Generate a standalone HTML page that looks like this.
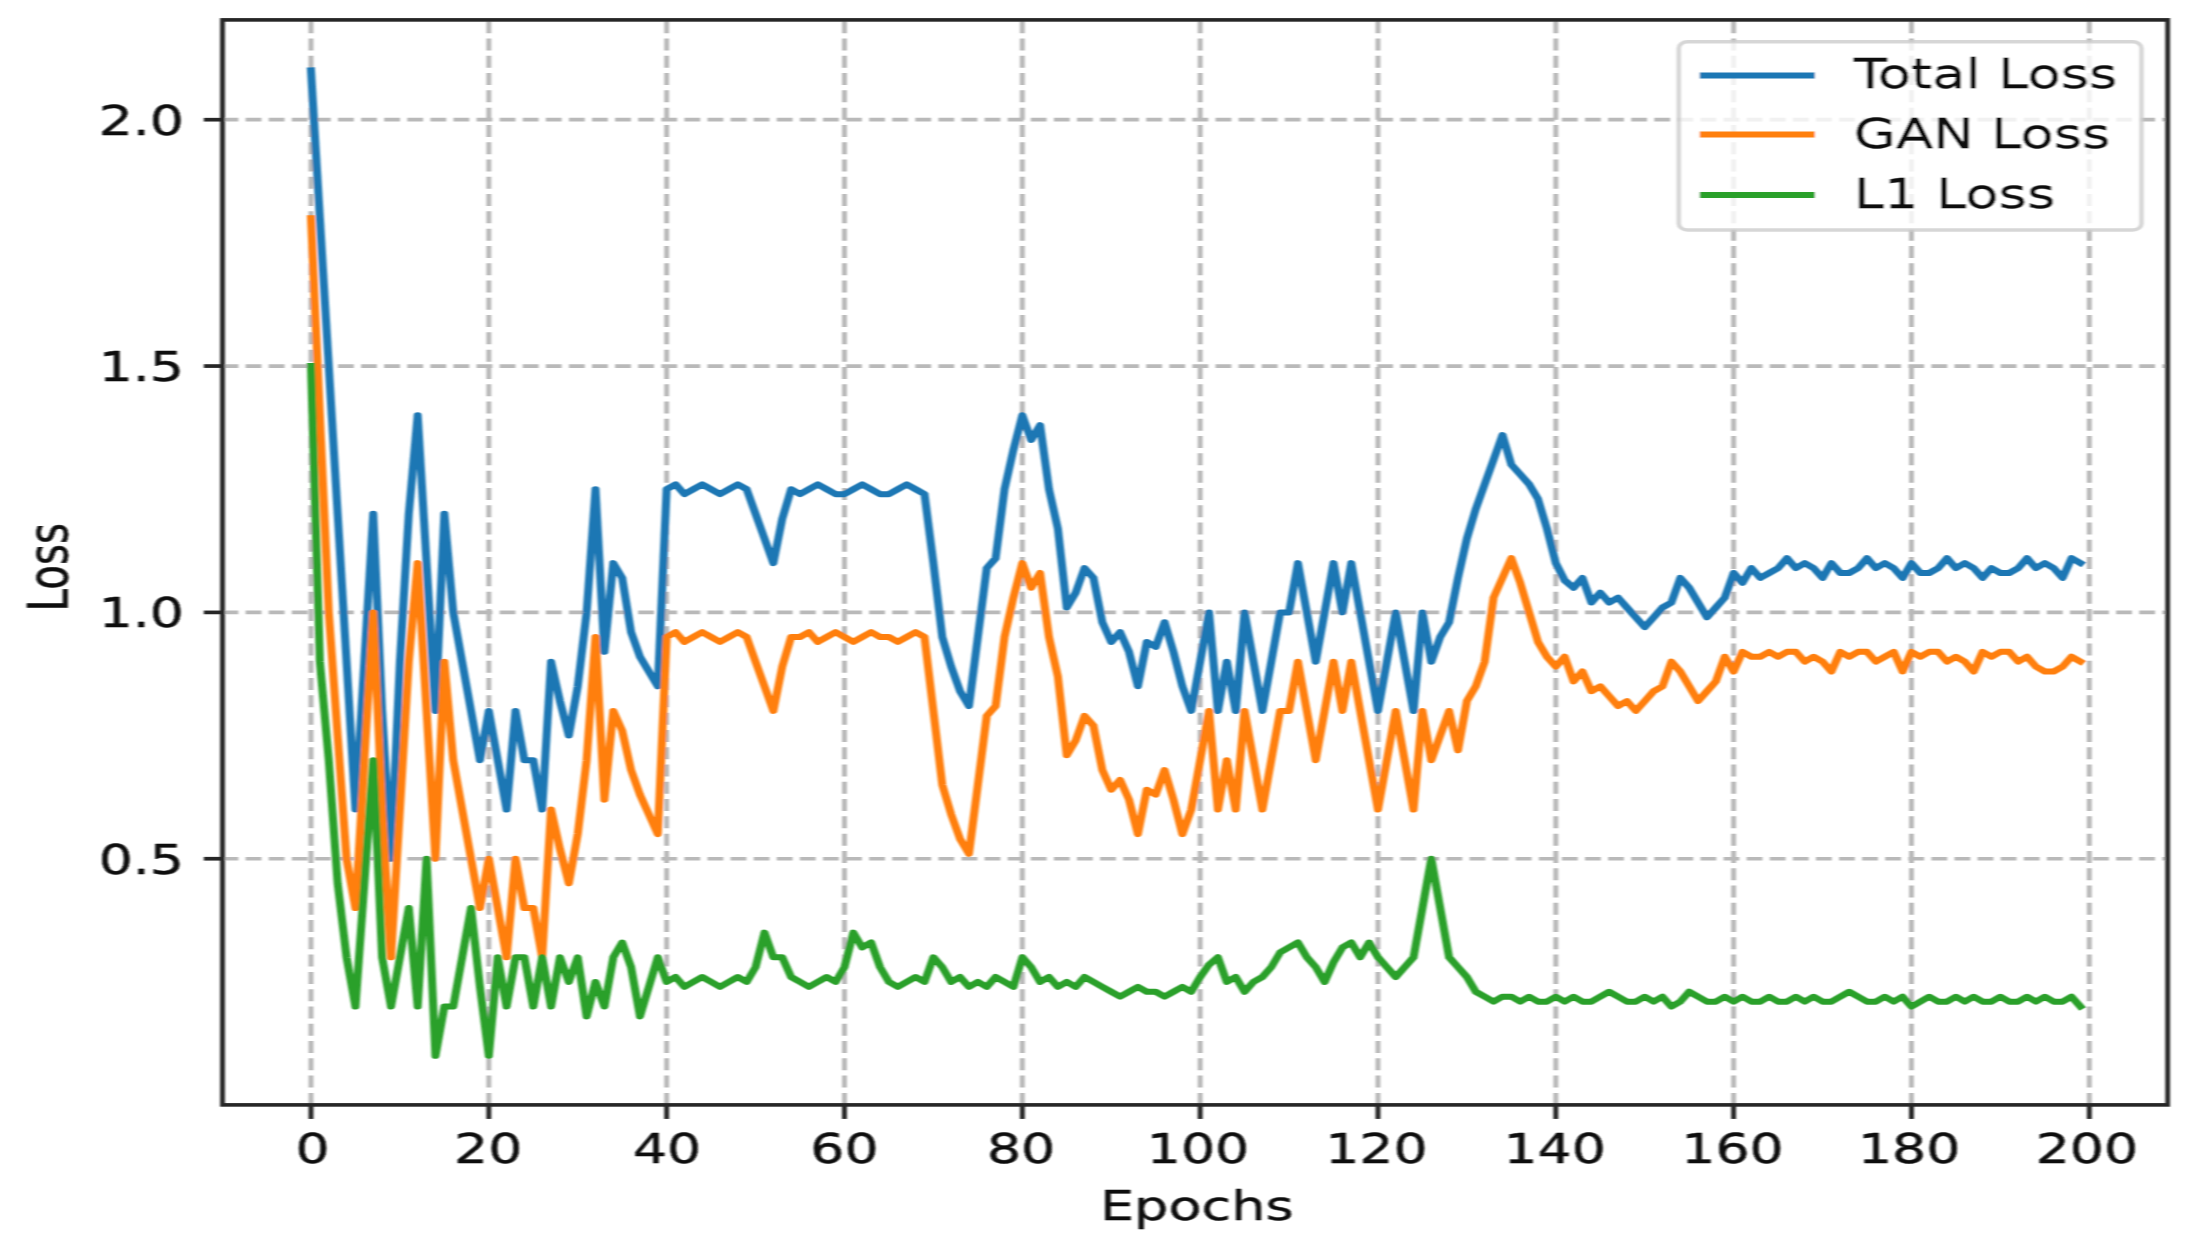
<!DOCTYPE html>
<html lang="en"><head><meta charset="utf-8"><title>Loss curves</title>
<style>html,body{margin:0;padding:0;background:#fff}body{width:2187px;height:1250px;overflow:hidden}svg{display:block}text{font-family:"DejaVu Sans", "Liberation Sans", sans-serif;font-size:41.0px;fill:#0a0a0a;stroke:#0a0a0a;stroke-width:0.4px;stroke-linejoin:round}</style></head><body>
<svg width="2187" height="1250" viewBox="0 0 2187 1250">
<defs><filter id="soft" x="-2%" y="-2%" width="104%" height="104%"><feGaussianBlur stdDeviation="0.9 0.7"/></filter>
<clipPath id="axclip"><rect x="166.54" y="19.9" width="1455.99" height="1085.0"/></clipPath></defs>
<rect width="2187" height="1250" fill="#fff"/>
<g filter="url(#soft)"><g transform="scale(1.336,1)">
<g stroke="#b9b9b9" stroke-width="3.7" fill="none">
<g stroke-dasharray="12.0 5.285">
<line x1="232.78" y1="1104.9" x2="232.78" y2="19.9"/>
<line x1="365.89" y1="1104.9" x2="365.89" y2="19.9"/>
<line x1="499.00" y1="1104.9" x2="499.00" y2="19.9"/>
<line x1="632.10" y1="1104.9" x2="632.10" y2="19.9"/>
<line x1="765.21" y1="1104.9" x2="765.21" y2="19.9"/>
<line x1="898.32" y1="1104.9" x2="898.32" y2="19.9"/>
<line x1="1031.42" y1="1104.9" x2="1031.42" y2="19.9"/>
<line x1="1164.53" y1="1104.9" x2="1164.53" y2="19.9"/>
<line x1="1297.63" y1="1104.9" x2="1297.63" y2="19.9"/>
<line x1="1430.74" y1="1104.9" x2="1430.74" y2="19.9"/>
<line x1="1563.85" y1="1104.9" x2="1563.85" y2="19.9"/>
</g><g stroke-dasharray="11.901 5.384">
<line x1="166.54" y1="858.75" x2="1622.53" y2="858.75"/>
<line x1="166.54" y1="612.40" x2="1622.53" y2="612.40"/>
<line x1="166.54" y1="366.05" x2="1622.53" y2="366.05"/>
<line x1="166.54" y1="119.70" x2="1622.53" y2="119.70"/>
</g></g>
<g fill="none" stroke-width="6.0" stroke-linejoin="round" stroke-linecap="square" clip-path="url(#axclip)">
<path stroke="#1f77b4" d="M232.78 70.43 L239.44 218.24 L246.10 366.05 L252.75 513.86 L259.41 661.67 L266.06 809.48 L272.72 661.67 L279.37 513.86 L286.03 710.94 L292.68 858.75 L299.34 661.67 L305.99 513.86 L312.65 415.32 L319.30 563.13 L325.96 710.94 L332.61 513.86 L339.27 612.40 L345.92 661.67 L352.58 710.94 L359.24 760.21 L365.89 710.94 L372.55 760.21 L379.20 809.48 L385.86 710.94 L392.51 760.21 L399.17 760.21 L405.82 809.48 L412.48 661.67 L419.13 701.09 L425.79 735.57 L432.44 686.30 L439.10 612.40 L445.75 489.22 L452.41 651.82 L459.07 563.13 L465.72 577.91 L472.38 632.11 L479.03 656.74 L485.69 671.52 L492.34 686.30 L499.00 489.22 L505.65 484.30 L512.31 494.15 L518.96 489.22 L525.62 484.30 L532.27 489.22 L538.93 494.15 L545.58 489.22 L552.24 484.30 L558.89 489.22 L565.55 513.86 L572.21 538.50 L578.86 563.13 L585.52 518.79 L592.17 489.22 L598.83 494.15 L605.48 489.22 L612.14 484.30 L618.79 489.22 L625.45 494.15 L632.10 494.15 L638.76 489.22 L645.41 484.30 L652.07 489.22 L658.72 494.15 L665.38 494.15 L672.04 489.22 L678.69 484.30 L685.35 489.22 L692.00 494.15 L698.66 563.13 L705.31 637.03 L711.97 666.60 L718.62 691.23 L725.28 706.01 L731.93 637.03 L738.59 568.06 L745.24 558.20 L751.90 489.22 L758.55 449.81 L765.21 415.32 L771.86 439.95 L778.52 425.17 L785.18 489.22 L791.83 528.64 L798.49 607.47 L805.14 592.69 L811.80 568.06 L818.45 577.91 L825.11 622.25 L831.76 641.96 L838.42 632.11 L845.07 651.82 L851.73 686.30 L858.38 641.96 L865.04 646.89 L871.69 622.25 L878.35 651.82 L885.01 686.30 L891.66 710.94 L898.32 661.67 L904.97 612.40 L911.63 710.94 L918.28 661.67 L924.94 710.94 L931.59 612.40 L938.25 661.67 L944.90 710.94 L951.56 661.67 L958.21 612.40 L964.87 612.40 L971.52 563.13 L978.18 612.40 L984.83 661.67 L991.49 612.40 L998.15 563.13 L1004.80 612.40 L1011.46 563.13 L1018.11 612.40 L1024.77 661.67 L1031.42 710.94 L1038.08 661.67 L1044.73 612.40 L1051.39 661.67 L1058.04 710.94 L1064.70 612.40 L1071.35 661.67 L1078.01 637.03 L1084.66 622.25 L1091.32 577.91 L1097.98 538.50 L1104.63 508.93 L1111.29 484.30 L1117.94 459.66 L1124.60 435.03 L1131.25 464.59 L1137.91 474.44 L1144.56 484.30 L1151.22 499.08 L1157.87 528.64 L1164.53 563.13 L1171.18 580.37 L1177.84 587.76 L1184.49 577.91 L1191.15 602.55 L1197.81 592.69 L1204.46 602.55 L1211.12 597.62 L1217.77 607.47 L1224.43 617.33 L1231.08 627.18 L1237.74 617.33 L1244.39 607.47 L1251.05 602.55 L1257.70 577.91 L1264.36 587.76 L1271.01 602.55 L1277.67 617.33 L1284.32 607.47 L1290.98 597.62 L1297.63 572.98 L1304.29 582.84 L1310.95 568.06 L1317.60 577.91 L1324.26 572.98 L1330.91 568.06 L1337.57 558.20 L1344.22 568.06 L1350.88 563.13 L1357.53 568.06 L1364.19 577.91 L1370.84 563.13 L1377.50 572.98 L1384.15 572.98 L1390.81 568.06 L1397.46 558.20 L1404.12 568.06 L1410.78 563.13 L1417.43 568.06 L1424.09 577.91 L1430.74 563.13 L1437.40 572.98 L1444.05 572.98 L1450.71 568.06 L1457.36 558.20 L1464.02 568.06 L1470.67 563.13 L1477.33 568.06 L1483.98 577.91 L1490.64 568.06 L1497.29 572.98 L1503.95 572.98 L1510.60 568.06 L1517.26 558.20 L1523.92 568.06 L1530.57 563.13 L1537.23 568.06 L1543.88 577.91 L1550.54 558.20 L1557.19 563.13"/>
<path stroke="#ff7f0e" d="M232.78 218.24 L239.44 415.32 L246.10 612.40 L252.75 735.57 L259.41 858.75 L266.06 908.02 L272.72 760.21 L279.37 612.40 L286.03 809.48 L292.68 957.29 L299.34 809.48 L305.99 661.67 L312.65 563.13 L319.30 710.94 L325.96 858.75 L332.61 661.67 L339.27 760.21 L345.92 809.48 L352.58 858.75 L359.24 908.02 L365.89 858.75 L372.55 908.02 L379.20 957.29 L385.86 858.75 L392.51 908.02 L399.17 908.02 L405.82 957.29 L412.48 809.48 L419.13 848.90 L425.79 883.38 L432.44 834.11 L439.10 760.21 L445.75 637.03 L452.41 799.63 L459.07 710.94 L465.72 730.65 L472.38 770.06 L479.03 794.70 L485.69 814.41 L492.34 834.11 L499.00 637.03 L505.65 632.11 L512.31 641.96 L518.96 637.03 L525.62 632.11 L532.27 637.03 L538.93 641.96 L545.58 637.03 L552.24 632.11 L558.89 637.03 L565.55 661.67 L572.21 686.30 L578.86 710.94 L585.52 666.60 L592.17 637.03 L598.83 637.03 L605.48 632.11 L612.14 641.96 L618.79 637.03 L625.45 632.11 L632.10 637.03 L638.76 641.96 L645.41 637.03 L652.07 632.11 L658.72 637.03 L665.38 637.03 L672.04 641.96 L678.69 637.03 L685.35 632.11 L692.00 637.03 L698.66 710.94 L705.31 784.84 L711.97 814.41 L718.62 839.04 L725.28 853.82 L731.93 784.84 L738.59 715.87 L745.24 706.01 L751.90 637.03 L758.55 597.62 L765.21 563.13 L771.86 587.76 L778.52 572.98 L785.18 637.03 L791.83 676.45 L798.49 755.28 L805.14 740.50 L811.80 715.87 L818.45 725.72 L825.11 770.06 L831.76 789.77 L838.42 779.92 L845.07 799.63 L851.73 834.11 L858.38 789.77 L865.04 794.70 L871.69 770.06 L878.35 799.63 L885.01 834.11 L891.66 809.48 L898.32 760.21 L904.97 710.94 L911.63 809.48 L918.28 760.21 L924.94 809.48 L931.59 710.94 L938.25 760.21 L944.90 809.48 L951.56 760.21 L958.21 710.94 L964.87 710.94 L971.52 661.67 L978.18 710.94 L984.83 760.21 L991.49 710.94 L998.15 661.67 L1004.80 710.94 L1011.46 661.67 L1018.11 710.94 L1024.77 760.21 L1031.42 809.48 L1038.08 760.21 L1044.73 710.94 L1051.39 760.21 L1058.04 809.48 L1064.70 710.94 L1071.35 760.21 L1078.01 735.57 L1084.66 710.94 L1091.32 750.36 L1097.98 701.09 L1104.63 686.30 L1111.29 661.67 L1117.94 597.62 L1124.60 577.91 L1131.25 558.20 L1137.91 582.84 L1144.56 612.40 L1151.22 641.96 L1157.87 656.74 L1164.53 666.60 L1171.18 656.74 L1177.84 681.38 L1184.49 671.52 L1191.15 691.23 L1197.81 686.30 L1204.46 696.16 L1211.12 706.01 L1217.77 701.09 L1224.43 710.94 L1231.08 701.09 L1237.74 691.23 L1244.39 686.30 L1251.05 661.67 L1257.70 671.52 L1264.36 686.30 L1271.01 701.09 L1277.67 691.23 L1284.32 681.38 L1290.98 656.74 L1297.63 671.52 L1304.29 651.82 L1310.95 656.74 L1317.60 656.74 L1324.26 651.82 L1330.91 656.74 L1337.57 651.82 L1344.22 651.82 L1350.88 661.67 L1357.53 656.74 L1364.19 661.67 L1370.84 671.52 L1377.50 651.82 L1384.15 656.74 L1390.81 651.82 L1397.46 651.82 L1404.12 661.67 L1410.78 656.74 L1417.43 651.82 L1424.09 671.52 L1430.74 651.82 L1437.40 656.74 L1444.05 651.82 L1450.71 651.82 L1457.36 661.67 L1464.02 656.74 L1470.67 661.67 L1477.33 671.52 L1483.98 651.82 L1490.64 656.74 L1497.29 651.82 L1503.95 651.82 L1510.60 661.67 L1517.26 656.74 L1523.92 666.60 L1530.57 671.52 L1537.23 671.52 L1543.88 666.60 L1550.54 656.74 L1557.19 661.67"/>
<path stroke="#2ca02c" d="M232.78 366.05 L239.44 661.67 L246.10 760.21 L252.75 883.38 L259.41 957.29 L266.06 1006.56 L272.72 883.38 L279.37 760.21 L286.03 957.29 L292.68 1006.56 L299.34 957.29 L305.99 908.02 L312.65 1006.56 L319.30 858.75 L325.96 1055.83 L332.61 1006.56 L339.27 1006.56 L345.92 957.29 L352.58 908.02 L359.24 986.85 L365.89 1055.83 L372.55 957.29 L379.20 1006.56 L385.86 957.29 L392.51 957.29 L399.17 1006.56 L405.82 957.29 L412.48 1006.56 L419.13 957.29 L425.79 981.92 L432.44 957.29 L439.10 1016.41 L445.75 981.92 L452.41 1006.56 L459.07 957.29 L465.72 942.51 L472.38 967.14 L479.03 1016.41 L485.69 986.85 L492.34 957.29 L499.00 981.92 L505.65 977.00 L512.31 986.85 L518.96 981.92 L525.62 977.00 L532.27 981.92 L538.93 986.85 L545.58 981.92 L552.24 977.00 L558.89 981.92 L565.55 967.14 L572.21 932.65 L578.86 957.29 L585.52 957.29 L592.17 977.00 L598.83 981.92 L605.48 986.85 L612.14 981.92 L618.79 977.00 L625.45 981.92 L632.10 967.14 L638.76 932.65 L645.41 947.44 L652.07 942.51 L658.72 967.14 L665.38 981.92 L672.04 986.85 L678.69 981.92 L685.35 977.00 L692.00 981.92 L698.66 957.29 L705.31 967.14 L711.97 981.92 L718.62 977.00 L725.28 986.85 L731.93 981.92 L738.59 986.85 L745.24 977.00 L751.90 981.92 L758.55 986.85 L765.21 957.29 L771.86 967.14 L778.52 981.92 L785.18 977.00 L791.83 986.85 L798.49 981.92 L805.14 986.85 L811.80 977.00 L818.45 981.92 L825.11 986.85 L831.76 991.78 L838.42 996.71 L845.07 991.78 L851.73 986.85 L858.38 991.78 L865.04 991.78 L871.69 996.71 L878.35 991.78 L885.01 986.85 L891.66 991.78 L898.32 977.00 L904.97 964.68 L911.63 957.29 L918.28 981.92 L924.94 977.00 L931.59 991.78 L938.25 981.92 L944.90 977.00 L951.56 967.14 L958.21 952.36 L964.87 947.44 L971.52 942.51 L978.18 957.29 L984.83 967.14 L991.49 981.92 L998.15 962.22 L1004.80 947.44 L1011.46 942.51 L1018.11 957.29 L1024.77 942.51 L1031.42 957.29 L1038.08 967.14 L1044.73 977.00 L1051.39 967.14 L1058.04 957.29 L1064.70 908.02 L1071.35 858.75 L1078.01 908.02 L1084.66 957.29 L1091.32 967.14 L1097.98 977.00 L1104.63 991.78 L1111.29 996.71 L1117.94 1001.63 L1124.60 996.71 L1131.25 996.71 L1137.91 1001.63 L1144.56 996.71 L1151.22 1001.63 L1157.87 1001.63 L1164.53 996.71 L1171.18 1001.63 L1177.84 996.71 L1184.49 1001.63 L1191.15 1001.63 L1197.81 996.71 L1204.46 991.78 L1211.12 996.71 L1217.77 1001.63 L1224.43 1001.63 L1231.08 996.71 L1237.74 1001.63 L1244.39 996.71 L1251.05 1006.56 L1257.70 1001.63 L1264.36 991.78 L1271.01 996.71 L1277.67 1001.63 L1284.32 1001.63 L1290.98 996.71 L1297.63 1001.63 L1304.29 996.71 L1310.95 1001.63 L1317.60 1001.63 L1324.26 996.71 L1330.91 1001.63 L1337.57 1001.63 L1344.22 996.71 L1350.88 1001.63 L1357.53 996.71 L1364.19 1001.63 L1370.84 1001.63 L1377.50 996.71 L1384.15 991.78 L1390.81 996.71 L1397.46 1001.63 L1404.12 1001.63 L1410.78 996.71 L1417.43 1001.63 L1424.09 996.71 L1430.74 1006.56 L1437.40 1001.63 L1444.05 996.71 L1450.71 1001.63 L1457.36 1001.63 L1464.02 996.71 L1470.67 1001.63 L1477.33 996.71 L1483.98 1001.63 L1490.64 1001.63 L1497.29 996.71 L1503.95 1001.63 L1510.60 1001.63 L1517.26 996.71 L1523.92 1001.63 L1530.57 996.71 L1537.23 1001.63 L1543.88 1001.63 L1550.54 996.71 L1557.19 1006.56"/>
</g>
<g stroke="#262626" stroke-width="3.7" fill="none">
<line x1="232.78" y1="1104.9" x2="232.78" y2="1118.9"/>
<line x1="365.89" y1="1104.9" x2="365.89" y2="1118.9"/>
<line x1="499.00" y1="1104.9" x2="499.00" y2="1118.9"/>
<line x1="632.10" y1="1104.9" x2="632.10" y2="1118.9"/>
<line x1="765.21" y1="1104.9" x2="765.21" y2="1118.9"/>
<line x1="898.32" y1="1104.9" x2="898.32" y2="1118.9"/>
<line x1="1031.42" y1="1104.9" x2="1031.42" y2="1118.9"/>
<line x1="1164.53" y1="1104.9" x2="1164.53" y2="1118.9"/>
<line x1="1297.63" y1="1104.9" x2="1297.63" y2="1118.9"/>
<line x1="1430.74" y1="1104.9" x2="1430.74" y2="1118.9"/>
<line x1="1563.85" y1="1104.9" x2="1563.85" y2="1118.9"/>
<line x1="166.54" y1="858.75" x2="152.54" y2="858.75"/>
<line x1="166.54" y1="612.40" x2="152.54" y2="612.40"/>
<line x1="166.54" y1="366.05" x2="152.54" y2="366.05"/>
<line x1="166.54" y1="119.70" x2="152.54" y2="119.70"/>
</g>
<rect x="166.54" y="19.9" width="1455.99" height="1085.0" fill="none" stroke="#262626" stroke-width="3.6" stroke-linejoin="miter"/>
<text transform="translate(233.98,1163.4) scale(0.98,1)" text-anchor="middle">0</text>
<text transform="translate(365.44,1163.4) scale(0.98,1)" text-anchor="middle">20</text>
<text transform="translate(499.30,1163.4) scale(0.98,1)" text-anchor="middle">40</text>
<text transform="translate(632.10,1163.4) scale(0.98,1)" text-anchor="middle">60</text>
<text transform="translate(764.24,1163.4) scale(0.98,1)" text-anchor="middle">80</text>
<text transform="translate(896.67,1163.4) scale(0.98,1)" text-anchor="middle">100</text>
<text transform="translate(1030.22,1163.4) scale(0.98,1)" text-anchor="middle">120</text>
<text transform="translate(1163.63,1163.4) scale(0.98,1)" text-anchor="middle">140</text>
<text transform="translate(1296.74,1163.4) scale(0.98,1)" text-anchor="middle">160</text>
<text transform="translate(1429.02,1163.4) scale(0.98,1)" text-anchor="middle">180</text>
<text transform="translate(1562.05,1163.4) scale(0.98,1)" text-anchor="middle">200</text>
<text transform="translate(137.72,873.65) scale(0.98,1)" text-anchor="end">0.5</text>
<text transform="translate(137.72,627.30) scale(0.98,1)" text-anchor="end">1.0</text>
<text transform="translate(137.72,380.95) scale(0.98,1)" text-anchor="end">1.5</text>
<text transform="translate(137.72,134.60) scale(0.98,1)" text-anchor="end">2.0</text>
<text transform="translate(895.81,1220.4) scale(0.987,1)" text-anchor="middle">Epochs</text>
<text transform="translate(50.15,567.2) rotate(-90) scale(0.985,1)" text-anchor="middle">Loss</text>
<rect x="1256.59" y="41.8" width="346.33" height="188.2" rx="6.5" ry="6.5" fill="#fff" fill-opacity="0.8" stroke="#cccccc" stroke-opacity="0.8" stroke-width="3.4"/>
<line x1="1275.23" y1="75.4" x2="1355.46" y2="75.4" stroke="#1f77b4" stroke-width="6.0" stroke-linecap="square"/>
<text transform="translate(1387.57,88.2) scale(0.993,1)">Total Loss</text>
<line x1="1275.23" y1="134.4" x2="1355.46" y2="134.4" stroke="#ff7f0e" stroke-width="6.0" stroke-linecap="square"/>
<text transform="translate(1387.57,148.2) scale(0.993,1)">GAN Loss</text>
<line x1="1275.23" y1="195.0" x2="1355.46" y2="195.0" stroke="#2ca02c" stroke-width="6.0" stroke-linecap="square"/>
<text transform="translate(1387.57,207.8) scale(0.993,1)">L1 Loss</text>
</g></g></svg></body></html>
